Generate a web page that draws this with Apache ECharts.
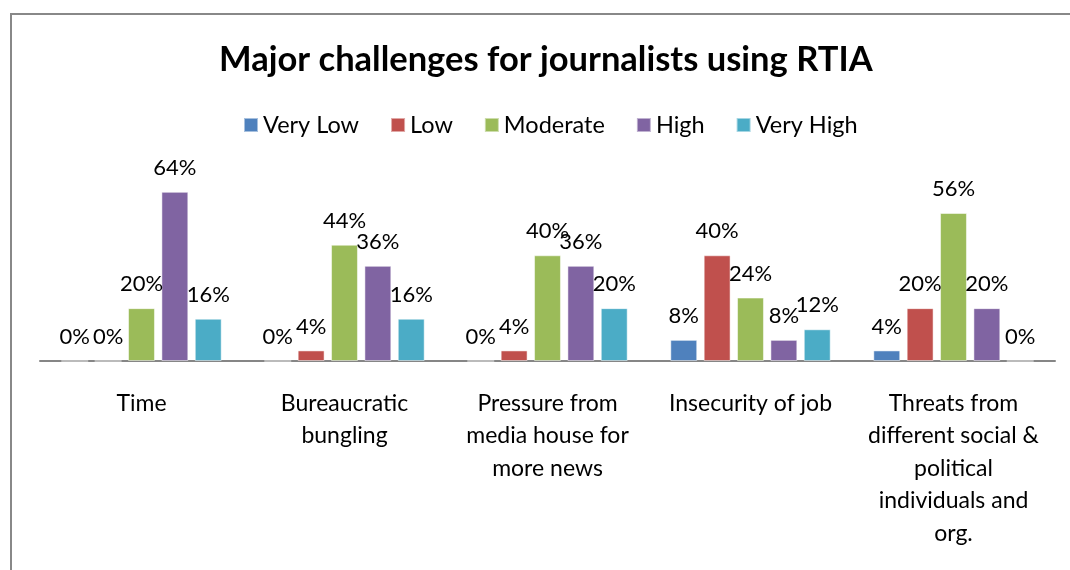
<!DOCTYPE html>
<html>
<head>
<meta charset="utf-8">
<script src="https://cdn.jsdelivr.net/npm/echarts@6/dist/echarts.min.js"></script>
<style>
  html, body { margin: 0; padding: 0; background: #fff; }
  #chart { width: 1070px; height: 570px; }
</style>
</head>
<body>
<div id="chart"></div>
<script>
// Challenge categories (tick labels, wrapped as displayed)
const categories = [
  'Time',
  'Bureaucratic\nbungling',
  'Pressure from\nmedia house for\nmore news',
  'Insecurity of job',
  'Threats from\ndifferent social &\npolitical\nindividuals and\norg.'
];

// Share of journalists (%) per rating level
const veryLow  = [0, 0, 0, 8, 4];
const low      = [0, 4, 4, 40, 20];
const moderate = [20, 44, 40, 24, 56];
const high     = [64, 36, 36, 8, 20];
const veryHigh = [16, 16, 20, 12, 0];

const seriesNames = ['Very Low', 'Low', 'Moderate', 'High', 'Very High'];
const seriesData = [veryLow, low, moderate, high, veryHigh];
const colors = ['#4F81BD', '#C0504D', '#9BBB59', '#8064A2', '#4BACC6'];

const FONT = 'Lato, "Open Sans", sans-serif';

const chart = echarts.init(document.getElementById('chart'));
chart.setOption({
  animation: false,
  color: colors,
  title: {
    text: 'Major challenges for journalists using RTIA',
    left: 214,
    top: 37,
    textStyle: { fontFamily: FONT, fontSize: 34.5, fontWeight: 'bold', color: '#000' }
  },
  legend: {
    top: 108,
    left: 238,
    itemWidth: 14,
    itemHeight: 14,
    itemGap: 31,
    icon: 'rect',
    textStyle: { fontFamily: FONT, fontSize: 23.5, color: '#000' },
    data: seriesNames
  },
  grid: { left: 40, right: 15, top: 176, bottom: 209, containLabel: false },
  xAxis: {
    type: 'category',
    data: categories,
    axisLine: { lineStyle: { color: '#868686', width: 2 } },
    axisTick: { show: false },
    axisLabel: {
      fontFamily: FONT, fontSize: 23, color: '#000',
      margin: 26, lineHeight: 32.5, interval: 0, align: 'center'
    }
  },
  yAxis: {
    type: 'value', min: 0, max: 70,
    show: false
  },
  graphic: [{
    type: 'rect',
    shape: { x: 11, y: 14, width: 1100, height: 620 },
    style: { fill: 'none', stroke: '#888', lineWidth: 2 },
    silent: true
  }],
  series: seriesNames.map((name, i) => ({
    name,
    type: 'bar',
    data: seriesData[i],
    barGap: '24%',
    barCategoryGap: '21%',
    itemStyle: { color: colors[i], borderColor: 'rgba(255,255,255,0.5)', borderWidth: 1 },
    label: {
      show: true,
      position: 'top',
      distance: 13,
      fontFamily: FONT,
      fontSize: 22,
      color: '#000',
      formatter: p => p.value + '%'
    }
  }))
});
</script>
</body>
</html>
